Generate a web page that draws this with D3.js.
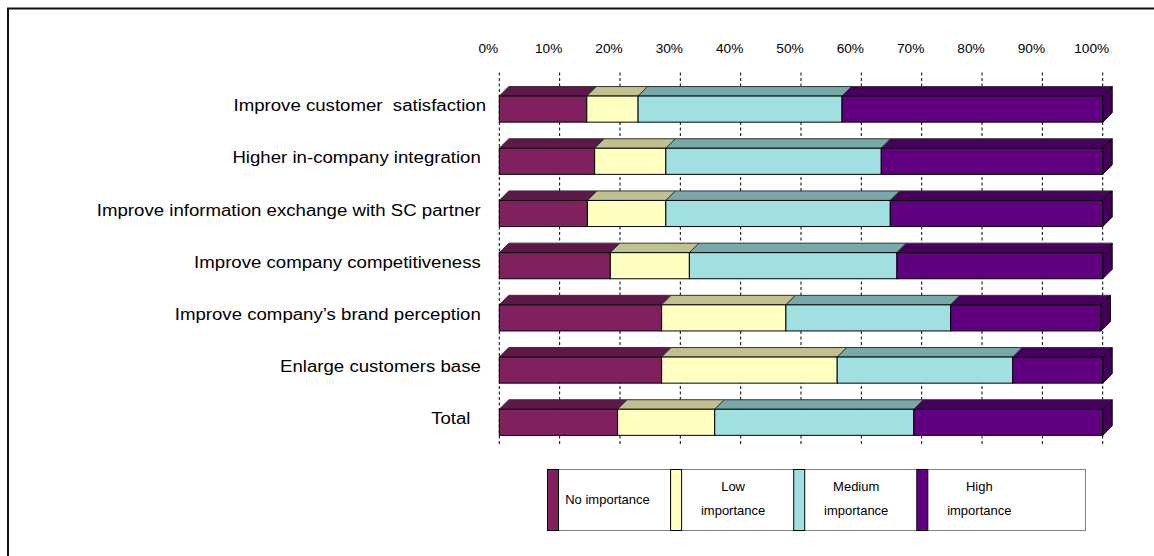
<!DOCTYPE html>
<html>
<head>
<meta charset="utf-8">
<script src="https://cdn.jsdelivr.net/npm/d3@7"></script>
<style>
  html, body { margin: 0; padding: 0; background: #fff; }
  svg { display: block; font-family: "Liberation Sans", Arial, sans-serif; }
  text { white-space: pre; }
</style>
</head>
<body>
<svg id="chart" width="1154" height="556"></svg>
<script>
// ---------- data ----------
const categories = [
  "Improve customer  satisfaction",
  "Higher in-company integration ",
  "Improve information exchange with SC partner ",
  "Improve company competitiveness ",
  "Improve company\u2019s brand perception ",
  "Enlarge customers base ",
  "Total   "
];
const seriesNames = ["No importance", "Low importance", "Medium importance", "High importance"];
const legendLines = [["No importance"], ["Low", "importance"], ["Medium", "importance"], ["High", "importance"]];
const noImportance     = [14.5, 15.8, 14.6, 18.4, 26.9, 26.9, 19.6];
const lowImportance    = [ 8.5, 11.8, 13.0, 13.1, 20.6, 29.1, 16.1];
const mediumImportance = [33.8, 35.7, 37.2, 34.4, 27.3, 29.1, 33.0];
const highImportance   = [43.2, 36.7, 35.2, 34.1, 24.9, 14.9, 31.3];
const tickValues = [0, 10, 20, 30, 40, 50, 60, 70, 80, 90, 100];
const tickLabels = ["0%", "10%", "20%", "30%", "40%", "50%", "60%", "70%", "80%", "90%", "100%"];

// ---------- styles ----------
const frontColors = ["#80205f", "#ffffc0", "#a0e0e0", "#600080"];
const topColors   = ["#60184a", "#c0c090", "#78a8a8", "#480060"];
const sideColor   = "#440058";
const depth = 9.5;

const svg = d3.select("#chart");

// frame (top and left edges visible)
svg.append("path")
  .attr("d", "M8,556 V8.5 H1154")
  .attr("fill", "none").attr("stroke", "#111").attr("stroke-width", 2);

const table = categories.map((c, i) => ({
  cat: c,
  "No importance": noImportance[i],
  "Low importance": lowImportance[i],
  "Medium importance": mediumImportance[i],
  "High importance": highImportance[i]
}));
const stacked = d3.stack().keys(seriesNames)(table);

const x = d3.scaleLinear().domain([0, 100]).range([499.3, 1102.7]);
const y = d3.scaleBand().domain(categories).range([83, 448.4]).paddingInner(0.5).paddingOuter(0.25);
const bw = y.bandwidth();

// gridlines
svg.append("g").selectAll("line").data(tickValues).join("line")
  .attr("x1", d => x(d)).attr("x2", d => x(d))
  .attr("y1", 72.5).attr("y2", 446)
  .attr("stroke", "#000").attr("stroke-width", 1)
  .attr("stroke-dasharray", "3,2.5");

// tick labels (top)
svg.append("g").selectAll("text").data(tickValues).join("text")
  .attr("transform", d => `translate(${x(d) - 11},53) scale(1.14,1)`)
  .attr("text-anchor", "middle")
  .attr("font-size", 12)
  .attr("fill", "#000")
  .text((d, i) => tickLabels[i]);

// category labels
svg.append("g").selectAll("text").data(categories).join("text")
  .attr("transform", d => `translate(486,${y(d) + bw / 2 + 2}) scale(1.164,1)`)
  .attr("text-anchor", "end")
  .attr("font-size", 16)
  .attr("fill", "#000")
  .text(d => d);

// bars
const barsG = svg.append("g");
stacked.forEach((layer, si) => {
  const g = barsG.append("g");
  // top faces
  g.selectAll("path.top").data(layer).join("path")
    .attr("class", "top")
    .attr("d", d => {
      const x0 = x(d[0]), x1 = x(d[1]), yt = y(d.data.cat);
      return `M${x0},${yt} L${x0 + depth},${yt - depth} L${x1 + depth},${yt - depth} L${x1},${yt} Z`;
    })
    .attr("fill", topColors[si])
    .attr("stroke", "#333").attr("stroke-width", 1).attr("stroke-linejoin", "round");
  // front faces
  g.selectAll("rect.front").data(layer).join("rect")
    .attr("class", "front")
    .attr("x", d => x(d[0]))
    .attr("y", d => y(d.data.cat))
    .attr("width", d => x(d[1]) - x(d[0]))
    .attr("height", bw)
    .attr("fill", frontColors[si])
    .attr("stroke", "#000").attr("stroke-width", 1);
  // right side face on last series
  if (si === stacked.length - 1) {
    g.selectAll("path.side").data(layer).join("path")
      .attr("class", "side")
      .attr("d", d => {
        const x1 = x(d[1]), yt = y(d.data.cat);
        return `M${x1},${yt} L${x1 + depth},${yt - depth} L${x1 + depth},${yt + bw - depth} L${x1},${yt + bw} Z`;
      })
      .attr("fill", sideColor)
      .attr("stroke", "#000").attr("stroke-width", 1).attr("stroke-linejoin", "round");
  }
});

// legend
const legX = 547.5, legY = 469.5, legW = 538, legH = 61, step = 123.1, swW = 11;
const leg = svg.append("g");
leg.append("rect")
  .attr("x", legX).attr("y", legY).attr("width", legW).attr("height", legH)
  .attr("fill", "#fff").attr("stroke", "#808080").attr("stroke-width", 1);
const items = leg.selectAll("g.item").data(seriesNames).join("g").attr("class", "item")
  .attr("transform", (d, i) => `translate(${legX + i * step},${legY})`);
items.append("rect")
  .attr("x", 0).attr("y", 0).attr("width", swW).attr("height", legH)
  .attr("fill", (d, i) => frontColors[i])
  .attr("stroke", "#000").attr("stroke-width", 1);
items.each(function (d, i) {
  const lines = legendLines[i];
  const t = d3.select(this).append("text")
    .attr("text-anchor", "middle")
    .attr("font-size", 13)
    .attr("fill", "#000");
  if (lines.length === 1) {
    t.append("tspan").attr("x", 60).attr("y", 34.5).text(lines[0]);
  } else {
    t.selectAll("tspan").data(lines).join("tspan")
      .attr("x", 62.5)
      .attr("y", (l, k) => 21.5 + k * 23.5)
      .text(l => l);
  }
});
</script>
</body>
</html>
